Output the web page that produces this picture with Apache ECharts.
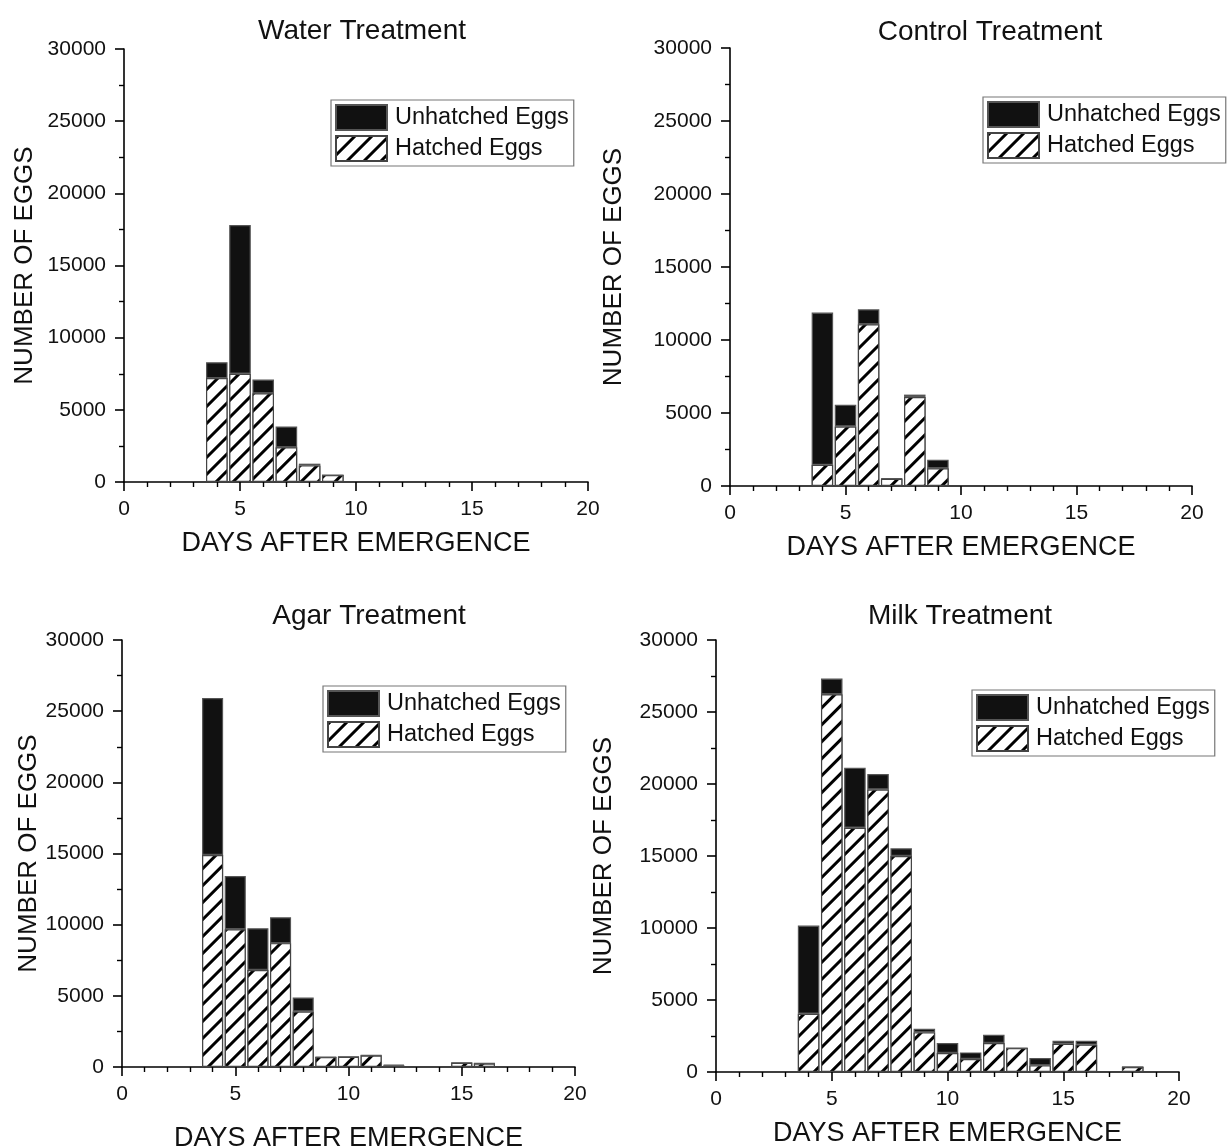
<!DOCTYPE html>
<html>
<head>
<meta charset="utf-8">
<script src="https://cdn.jsdelivr.net/npm/echarts@6/dist/echarts.min.js"></script>
<style>
  html, body { margin: 0; padding: 0; background: #fff; }
  #chart { width: 1227px; height: 1147px; }
</style>
</head>
<body>
<div id="chart"></div>
<script>
// ---- Data ----
const panelTitles = ['Water Treatment', 'Control Treatment', 'Agar Treatment', 'Milk Treatment'];
const seriesNames = ['Hatched Eggs', 'Unhatched Eggs'];
const xTitle = 'DAYS AFTER EMERGENCE';
const yTitle = 'NUMBER OF EGGS';

const waterDays      = [4, 5, 6, 7, 8, 9];
const waterHatched   = [7200, 7500, 6150, 2400, 1150, 480];
const waterUnhatched = [1100, 10300, 950, 1450, 120, 0];

const controlDays      = [4, 5, 6, 7, 8, 9];
const controlHatched   = [1450, 4080, 11080, 500, 6100, 1220];
const controlUnhatched = [10430, 1490, 1020, 30, 160, 570];

const agarDays      = [4, 5, 6, 7, 8, 9, 10, 11, 12, 15, 16];
const agarHatched   = [14890, 9680, 6820, 8700, 3900, 700, 720, 810, 100, 300, 250];
const agarUnhatched = [11030, 3740, 2930, 1820, 980, 0, 0, 0, 50, 0, 0];

const milkDays      = [4, 5, 6, 7, 8, 9, 10, 11, 12, 13, 14, 15, 16, 18];
const milkHatched   = [4040, 26230, 16960, 19620, 15000, 2750, 1320, 900, 2010, 1660, 460, 1960, 1900, 350];
const milkUnhatched = [6130, 1090, 4160, 1070, 530, 250, 690, 460, 580, 0, 510, 210, 270, 0];

const xTicks = { min: 0, max: 20, interval: 5 };
const yTicks = { min: 0, max: 30000, interval: 5000 };

// ---- Layout / style ----
const FONT = "'Liberation Sans', Arial, sans-serif";
const panels = [
  { days: waterDays, h: waterHatched, u: waterUnhatched,
    grid: { left: 124, top: 49, width: 464, height: 433 },
    title: { x: 357, y: 12 }, legend: { left: 331, top: 100 },
    xGap: 48, yGap: 86 },
  { days: controlDays, h: controlHatched, u: controlUnhatched,
    grid: { left: 730, top: 48, width: 462, height: 438 },
    title: { x: 985, y: 13 }, legend: { left: 983, top: 97 },
    xGap: 48, yGap: 103 },
  { days: agarDays, h: agarHatched, u: agarUnhatched,
    grid: { left: 122, top: 640, width: 453, height: 427 },
    title: { x: 364, y: 597 }, legend: { left: 323, top: 686 },
    xGap: 58, yGap: 80 },
  { days: milkDays, h: milkHatched, u: milkUnhatched,
    grid: { left: 716, top: 640, width: 463, height: 432 },
    title: { x: 955, y: 597 }, legend: { left: 972, top: 690 },
    xGap: 48, yGap: 99 }
];

const hatchStyle = {
  color: '#ffffff',
  borderColor: '#444',
  borderWidth: 1.2,
  decal: {
    symbol: 'rect',
    symbolSize: 1,
    dashArrayX: [1, 0],
    dashArrayY: [2.1, 9],
    rotation: -Math.PI / 4,
    color: '#000000',
    backgroundColor: '#ffffff'
  }
};
const solidStyle = { color: '#111111', borderColor: '#555', borderWidth: 1.2 };

const option = {
  backgroundColor: '#ffffff',
  animation: false,
  textStyle: { fontFamily: FONT },
  title: [], legend: [], grid: [], xAxis: [], yAxis: [], series: []
};

panels.forEach((p, i) => {
  option.title.push({
    text: panelTitles[i], left: p.title.x, top: p.title.y, textAlign: 'center',
    textStyle: { fontFamily: FONT, fontSize: 28, fontWeight: 'normal', color: '#111' }
  });
  option.grid.push(Object.assign({ containLabel: false, outerBoundsMode: 'none' }, p.grid));
  option.xAxis.push({
    type: 'value', gridIndex: i, min: xTicks.min, max: xTicks.max, interval: xTicks.interval,
    name: xTitle, nameLocation: 'middle', nameGap: p.xGap,
    nameTextStyle: { fontFamily: FONT, fontSize: 27, color: '#111' },
    axisLine: { show: true, onZero: false, lineStyle: { color: '#000', width: 1.6 } },
    axisTick: { show: true, length: 9, lineStyle: { color: '#000', width: 1.6 } },
    minorTick: { show: true, splitNumber: 5, length: 5, lineStyle: { color: '#000', width: 1.4 } },
    splitLine: { show: false },
    axisLabel: { fontFamily: FONT, fontSize: 21, color: '#111', margin: 17, formatter: v => String(v) }
  });
  option.yAxis.push({
    type: 'value', gridIndex: i, min: yTicks.min, max: yTicks.max, interval: yTicks.interval,
    name: yTitle, nameLocation: 'middle', nameGap: p.yGap,
    nameTextStyle: { fontFamily: FONT, fontSize: 26, color: '#111' },
    axisLine: { show: true, onZero: false, lineStyle: { color: '#000', width: 1.6 } },
    axisTick: { show: true, length: 9, lineStyle: { color: '#000', width: 1.6 } },
    minorTick: { show: true, splitNumber: 2, length: 5, lineStyle: { color: '#000', width: 1.4 } },
    splitLine: { show: false },
    axisLabel: { fontFamily: FONT, fontSize: 21, color: '#111', margin: 18, formatter: v => String(v) }
  });
  const stackId = 'stack' + i;
  // data rows are [count, day] so that the count column is the stacked one
  option.series.push({
    name: seriesNames[0], type: 'bar', stack: stackId,
    xAxisIndex: i, yAxisIndex: i, barWidth: '93%',
    encode: { x: 1, y: 0 },
    itemStyle: hatchStyle,
    data: p.days.map((d, k) => [p.h[k], d])
  });
  option.series.push({
    name: seriesNames[1], type: 'bar', stack: stackId,
    xAxisIndex: i, yAxisIndex: i, barWidth: '93%',
    encode: { x: 1, y: 0 },
    itemStyle: solidStyle,
    data: p.days.map((d, k) => [p.u[k], d])
  });
  option.legend.push({
    left: p.legend.left, top: p.legend.top, orient: 'vertical',
    data: [seriesNames[1], seriesNames[0]],
    icon: 'rect', itemWidth: 51, itemHeight: 25, itemGap: 4,
    padding: [4, 5, 4, 4],
    borderColor: '#777', borderWidth: 1.2,
    selectedMode: false,
    textStyle: { fontFamily: FONT, fontSize: 23.5, color: '#111', padding: [0, 0, 0, 3] }
  });
});

const chart = echarts.init(document.getElementById('chart'), null, { renderer: 'canvas' });
chart.setOption(option);
</script>
</body>
</html>
